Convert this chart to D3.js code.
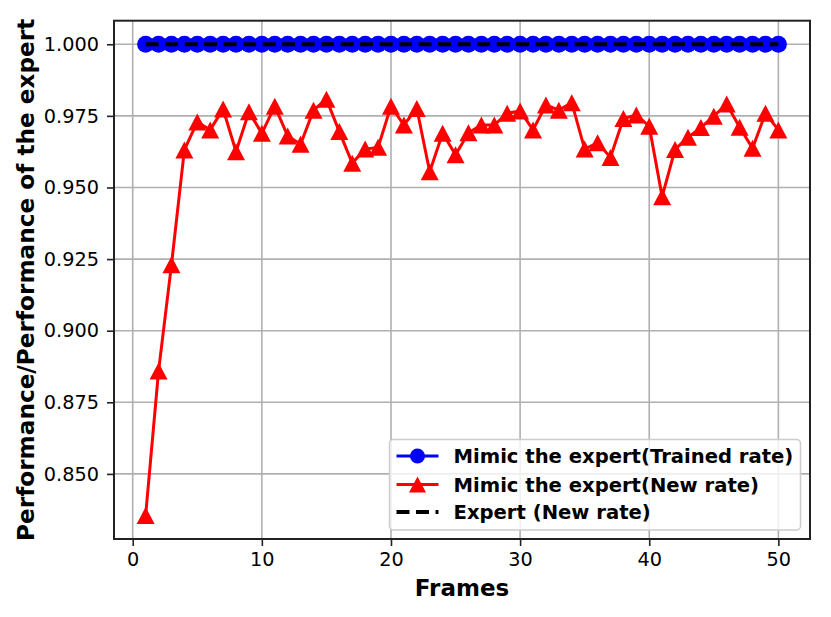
<!DOCTYPE html>
<html>
<head>
<meta charset="utf-8">
<script src="https://cdn.jsdelivr.net/npm/d3@7"></script>
<style>
  body { margin: 0; background: #fff; }
  svg { display: block; font-family: "DejaVu Sans", sans-serif; }
</style>
</head>
<body>
<div id="chart"></div>
<script>
// frames 1..50
var frames = [1,2,3,4,5,6,7,8,9,10,11,12,13,14,15,16,17,18,19,20,21,22,23,24,25,
              26,27,28,29,30,31,32,33,34,35,36,37,38,39,40,41,42,43,44,45,46,47,48,49,50];

var trainedRate = [1,1,1,1,1,1,1,1,1,1,1,1,1,1,1,1,1,1,1,1,1,1,1,1,1,
                   1,1,1,1,1,1,1,1,1,1,1,1,1,1,1,1,1,1,1,1,1,1,1,1,1];

var newRate = [0.8355,0.8859,0.9230,0.9631,0.9729,0.9701,0.9774,0.9625,0.9764,0.9689,
               0.9784,0.9680,0.9651,0.9770,0.9808,0.9695,0.9585,0.9634,0.9640,0.9784,
               0.9718,0.9776,0.9555,0.9689,0.9614,0.9691,0.9718,0.9718,0.9759,0.9767,
               0.9701,0.9788,0.9770,0.9796,0.9634,0.9656,0.9605,0.9741,0.9753,0.9714,
               0.9468,0.9633,0.9675,0.9709,0.9749,0.9791,0.9710,0.9637,0.9759,0.9701];

var expertRate = [1,1,1,1,1,1,1,1,1,1,1,1,1,1,1,1,1,1,1,1,1,1,1,1,1,
                  1,1,1,1,1,1,1,1,1,1,1,1,1,1,1,1,1,1,1,1,1,1,1,1,1];

var xTicks = [0, 10, 20, 30, 40, 50];
var yTicks = [0.850, 0.875, 0.900, 0.925, 0.950, 0.975, 1.000];

var legendLabels = ["Mimic the expert(Trained rate)", "Mimic the expert(New rate)", "Expert (New rate)"];

var width = 831, height = 617;
var plotL = 114, plotR = 810, plotT = 20.7, plotB = 539;

var svg = d3.select("#chart").append("svg")
  .attr("width", width)
  .attr("height", height);

// matplotlib style 5% margins
var xExt = d3.extent(frames);
var xPad = (xExt[1] - xExt[0]) * 0.05;
var allY = trainedRate.concat(newRate, expertRate);
var yExt = d3.extent(allY);
var yPad = (yExt[1] - yExt[0]) * 0.05;

var x = d3.scaleLinear().domain([xExt[0] - xPad, xExt[1] + xPad]).range([plotL, plotR]);
var y = d3.scaleLinear().domain([yExt[0] - yPad, yExt[1] + yPad]).range([plotB, plotT]);

// grid
var grid = svg.append("g").attr("stroke", "#b0b0b0").attr("stroke-width", 1.6);
grid.selectAll("line.gx").data(xTicks).enter().append("line")
  .attr("x1", function(d) { return x(d); }).attr("x2", function(d) { return x(d); })
  .attr("y1", plotT).attr("y2", plotB);
grid.selectAll("line.gy").data(yTicks).enter().append("line")
  .attr("y1", function(d) { return y(d); }).attr("y2", function(d) { return y(d); })
  .attr("x1", plotL).attr("x2", plotR);

// axes
var xAxis = svg.append("g")
  .attr("transform", "translate(0," + plotB + ")")
  .call(d3.axisBottom(x).tickValues(xTicks).tickSize(7).tickPadding(6).tickFormat(d3.format("d")));
var yAxis = svg.append("g")
  .attr("transform", "translate(" + plotL + ",0)")
  .call(d3.axisLeft(y).tickValues(yTicks).tickSize(7).tickPadding(8).tickFormat(d3.format(".3f")));

[xAxis, yAxis].forEach(function(a) {
  a.select(".domain").remove();
  a.selectAll(".tick line").attr("stroke", "#222").attr("stroke-width", 1.6);
  a.selectAll(".tick text").attr("fill", "#000").style("font-size", "19.3px")
   .style("font-family", "DejaVu Sans, sans-serif");
});

// frame
svg.append("rect")
  .attr("x", plotL).attr("y", plotT)
  .attr("width", plotR - plotL).attr("height", plotB - plotT)
  .attr("fill", "none").attr("stroke", "#222").attr("stroke-width", 2);

var line = d3.line()
  .x(function(d) { return x(d[0]); })
  .y(function(d) { return y(d[1]); });

var trainedPts = d3.zip(frames, trainedRate);
var newPts = d3.zip(frames, newRate);
var expertPts = d3.zip(frames, expertRate);

var triangle = function(cx, cy, hw, hh) {
  return "M" + cx + "," + (cy - hh) + "L" + (cx + hw) + "," + (cy + hh) + "L" + (cx - hw) + "," + (cy + hh) + "Z";
};

// blue series
svg.append("path").datum(trainedPts)
  .attr("d", line).attr("fill", "none").attr("stroke", "blue").attr("stroke-width", 3);
svg.selectAll("circle.trained").data(trainedPts).enter().append("circle")
  .attr("class", "trained")
  .attr("cx", function(d) { return x(d[0]); })
  .attr("cy", function(d) { return y(d[1]); })
  .attr("r", 8.5)
  .attr("fill", "blue");

// red series
svg.append("path").datum(newPts)
  .attr("d", line).attr("fill", "none").attr("stroke", "red").attr("stroke-width", 3);
svg.selectAll("path.newrate").data(newPts).enter().append("path")
  .attr("class", "newrate")
  .attr("d", function(d) { return triangle(x(d[0]), y(d[1]), 9, 8.5); })
  .attr("fill", "red");

// expert dashed
svg.append("path").datum(expertPts)
  .attr("d", line).attr("fill", "none").attr("stroke", "black")
  .attr("stroke-width", 4).attr("stroke-dasharray", "13,6.5");

// axis labels
svg.append("text")
  .attr("x", (plotL + plotR) / 2).attr("y", 596)
  .attr("text-anchor", "middle")
  .style("font-size", "23px").style("font-weight", "bold")
  .text("Frames");

svg.append("text")
  .attr("transform", "translate(34," + ((plotT + plotB) / 2) + ") rotate(-90)")
  .attr("text-anchor", "middle")
  .style("font-size", "23.2px").style("font-weight", "bold")
  .text("Performance/Performance of the expert");

// legend
var lg = svg.append("g").attr("transform", "translate(389.5,439.5)");
lg.append("rect")
  .attr("width", 411).attr("height", 90.5).attr("rx", 4)
  .attr("fill", "white").attr("fill-opacity", 0.8)
  .attr("stroke", "#cccccc").attr("stroke-width", 1.5);

var rowY = [16.5, 45, 72.5];

legendLabels.forEach(function(label, i) {
  var g = lg.append("g").attr("transform", "translate(0," + rowY[i] + ")");
  if (i === 0) {
    g.append("line").attr("x1", 7).attr("x2", 49).attr("stroke", "blue").attr("stroke-width", 3);
    g.append("circle").attr("cx", 28).attr("r", 7.5).attr("fill", "blue");
  } else if (i === 1) {
    g.append("line").attr("x1", 7).attr("x2", 49).attr("stroke", "red").attr("stroke-width", 3);
    g.append("path").attr("d", triangle(28, 0, 8.5, 8)).attr("fill", "red");
  } else {
    g.append("line").attr("x1", 7).attr("x2", 49).attr("stroke", "black")
      .attr("stroke-width", 4).attr("stroke-dasharray", "13,6.5");
  }
  g.append("text")
    .attr("x", 64).attr("y", 7)
    .style("font-size", "19.6px").style("font-weight", "bold")
    .text(label);
});
</script>
</body>
</html>
